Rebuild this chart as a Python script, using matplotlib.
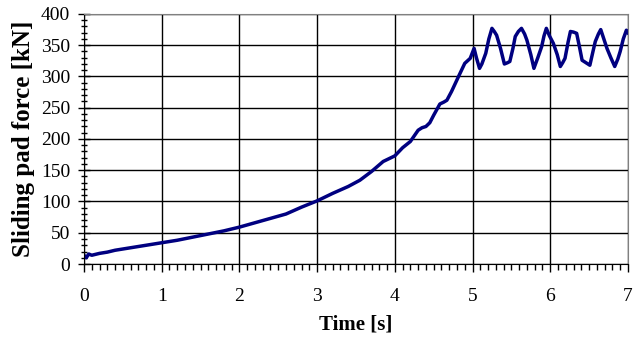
import numpy as np
import matplotlib
matplotlib.use('Agg')
import matplotlib.pyplot as plt
from matplotlib.ticker import MultipleLocator

# values
time_s = [0.00, 0.03, 0.06, 0.1, 0.2, 0.3, 0.4, 0.5, 0.6, 0.7, 0.8, 0.9, 1.0,
          1.2, 1.4, 1.6, 1.8, 2.0, 2.2, 2.4, 2.6, 2.8, 3.0, 3.2, 3.4, 3.55,
          3.7, 3.85, 4.0, 4.1, 4.2, 4.3, 4.35, 4.4, 4.45, 4.5, 4.58, 4.63,
          4.67, 4.73, 4.82, 4.9, 4.97, 5.02, 5.05, 5.09, 5.12, 5.17, 5.21,
          5.25, 5.28, 5.31, 5.36, 5.41, 5.45, 5.48, 5.52, 5.55, 5.59, 5.63,
          5.67, 5.70, 5.75, 5.79, 5.84, 5.89, 5.92, 5.95, 5.99, 6.04, 6.09,
          6.13, 6.16, 6.19, 6.23, 6.26, 6.30, 6.34, 6.38, 6.41, 6.46, 6.51,
          6.55, 6.58, 6.62, 6.65, 6.69, 6.73, 6.78, 6.83, 6.87, 6.90, 6.94,
          6.98, 7.0]
force_kn = [14, 10, 16, 14, 17, 19, 22, 24, 26, 28, 30, 32, 34,
            38, 43, 48, 53, 59, 66, 73, 80, 91, 101, 113, 124, 134,
            148, 164, 173, 186, 196, 214, 218, 220, 226, 238, 256, 259,
            262, 276, 300, 321, 329, 345, 330, 313, 320, 337, 360,
            377, 372, 366, 345, 320, 322, 324, 345, 364, 372, 377,
            368, 358, 335, 313, 330, 348, 365, 377, 365, 353, 335,
            316, 322, 329, 355, 372, 371, 369, 345, 326, 322, 318,
            340, 356, 368, 375, 360, 345, 330, 316, 328, 340, 360,
            374, 370]

plt.rcParams['font.family'] = ['Liberation Serif', 'DejaVu Serif']

fig = plt.figure(figsize=(6.33, 3.41), dpi=100)
ax = fig.add_axes([0.1327, 0.2258, 0.8593, 0.7332])

ax.plot(time_s, force_kn, color='#000080', linewidth=2.5, solid_joinstyle='round')

ax.set_xlim(0, 7)
ax.set_ylim(0, 400)
ax.xaxis.set_major_locator(MultipleLocator(1))
ax.xaxis.set_minor_locator(MultipleLocator(0.1))
ax.yaxis.set_major_locator(MultipleLocator(50))
ax.yaxis.set_minor_locator(MultipleLocator(10))

ax.grid(True, which='major', color='black', linewidth=1)
ax.set_axisbelow(True)

ax.tick_params(axis='x', which='major', direction='out', length=6, width=1,
               labelsize=14, pad=11)
ax.tick_params(axis='x', which='minor', direction='out', length=4, width=1)
ax.tick_params(axis='y', which='major', direction='inout', length=8, width=1,
               labelsize=14, pad=6)
ax.tick_params(axis='y', which='minor', direction='inout', length=5, width=1)

for s in ['top', 'right']:
    ax.spines[s].set_color('#808080')
for s in ['left', 'bottom']:
    ax.spines[s].set_color('black')

ax.set_xlabel('Time [s]', fontsize=15, fontweight='bold', labelpad=7)
ax.set_ylabel('Sliding pad force [kN]', fontsize=18, fontweight='bold', labelpad=4)

fig.savefig('out.png', dpi=100)
